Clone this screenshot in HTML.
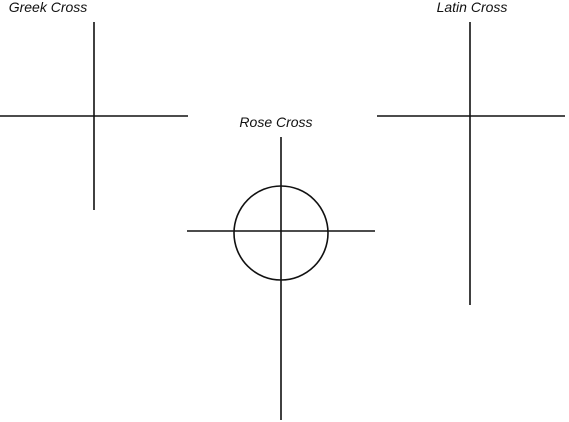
<!DOCTYPE html>
<html><head><meta charset="utf-8"><style>
html,body{margin:0;padding:0;background:#fff;width:569px;height:422px;overflow:hidden}
text{font-family:"Liberation Sans",sans-serif;font-style:italic;font-size:14px;fill:#111}
line,circle{stroke:#111;stroke-width:1.6;fill:none}
</style></head><body>
<svg width="569" height="422" viewBox="0 0 569 422">
<g>
<text x="48" y="12" text-anchor="middle">Greek Cross</text>
<line x1="94" y1="22" x2="94" y2="210"/>
<line x1="0" y1="116" x2="188" y2="116"/>
</g>
<g>
<text x="276" y="127" text-anchor="middle">Rose Cross</text>
<line x1="281" y1="137" x2="281" y2="420"/>
<line x1="187" y1="231" x2="375" y2="231"/>
<circle cx="281" cy="233" r="47"/>
</g>
<g>
<text x="472" y="12" text-anchor="middle">Latin Cross</text>
<line x1="470" y1="22" x2="470" y2="305"/>
<line x1="377" y1="116" x2="565" y2="116"/>
</g>
</svg>
</body></html>
